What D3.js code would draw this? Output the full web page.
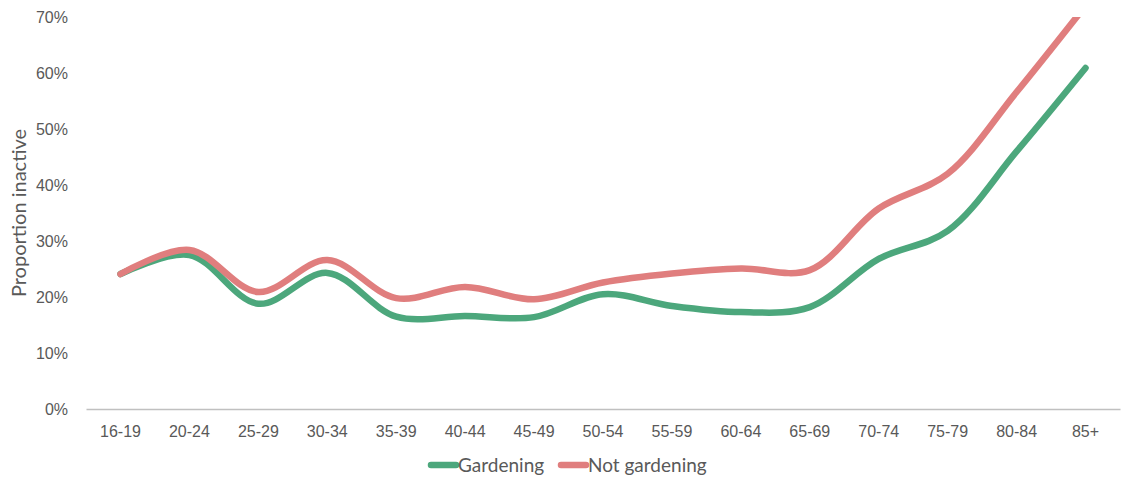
<!DOCTYPE html>
<html><head><meta charset="utf-8">
<script src="https://cdn.jsdelivr.net/npm/d3@7"></script>
<style>
html,body{margin:0;padding:0;background:#fff;}
svg{display:block;font-family:Lato,"Open Sans",sans-serif;}
</style></head>
<body>
<svg id="chart" width="1121" height="477"></svg>
<script>
const categories = ["16-19","20-24","25-29","30-34","35-39","40-44","45-49","50-54","55-59","60-64","65-69","70-74","75-79","80-84","85+"];
const gardening = [24.1,27.5,18.8,24.3,16.5,16.6,16.4,20.5,18.4,17.3,18.2,26.8,31.8,46.0,60.9];
const notGardening = [24.1,28.4,20.9,26.6,19.8,21.8,19.6,22.6,24.2,25.1,24.8,35.8,42.0,56.6,72.0];
const yTicks = [0,10,20,30,40,50,60,70];
const seriesNames = ["Gardening","Not gardening"];
const colors = ["#4ca77c","#e07e7e"];

const svg = d3.select("#chart");
const m = {left:86, right:1, top:17, bottom:68};
const W = 1121, H = 477;
const x = d3.scaleBand().domain(categories).range([m.left, W - m.right]);
const y = d3.scaleLinear().domain([0,70]).range([H - m.bottom, m.top]);

svg.append("defs").append("clipPath").attr("id","clip")
  .append("rect").attr("x",0).attr("y",m.top).attr("width",W).attr("height",H);

// y axis labels
const yAxis = d3.axisLeft(y).tickValues(yTicks).tickFormat(d => d + "%").tickSize(0).tickPadding(18);
const gy = svg.append("g").attr("transform",`translate(${m.left},0)`).call(yAxis);
gy.select(".domain").remove();
gy.selectAll("text").attr("fill","#595959").style("font-size","16px");

// x axis
const xAxis = d3.axisBottom(x).tickSize(0).tickPadding(17);
const gx = svg.append("g").attr("transform",`translate(0,${y(0)})`).call(xAxis);
gx.select(".domain").attr("stroke","#c0c0c0").attr("stroke-width",1.3);
gx.selectAll("text").attr("fill","#595959").style("font-size","16px");

// axis title
svg.append("text").attr("transform",`translate(26,${(y(0)+y(70))/2}) rotate(-90)`)
  .attr("text-anchor","middle").attr("fill","#595959").style("font-size","20px").text("Proportion inactive");

const line = d3.line()
  .x((d,i) => x(categories[i]) + x.bandwidth()/2)
  .y(d => y(d))
  .curve(d3.curveCatmullRom.alpha(0.5));

const plot = svg.append("g").attr("clip-path","url(#clip)");
[gardening, notGardening].forEach((s,k) => {
  plot.append("path").datum(s).attr("d", line)
    .attr("fill","none").attr("stroke", colors[k]).attr("stroke-width",6.5)
    .attr("stroke-linecap","round").attr("stroke-linejoin","round");
});

// legend
const lg = svg.append("g").attr("transform","translate(0,465)");
const legendX = [428, 558];
seriesNames.forEach((n,k) => {
  lg.append("line").attr("x1",legendX[k]+3).attr("x2",legendX[k]+28).attr("y1",0).attr("y2",0)
    .attr("stroke",colors[k]).attr("stroke-width",6.5).attr("stroke-linecap","round");
  lg.append("text").attr("x",legendX[k]+30).attr("y",7).attr("fill","#595959")
    .style("font-size","19px").text(n);
});
</script>
</body></html>
